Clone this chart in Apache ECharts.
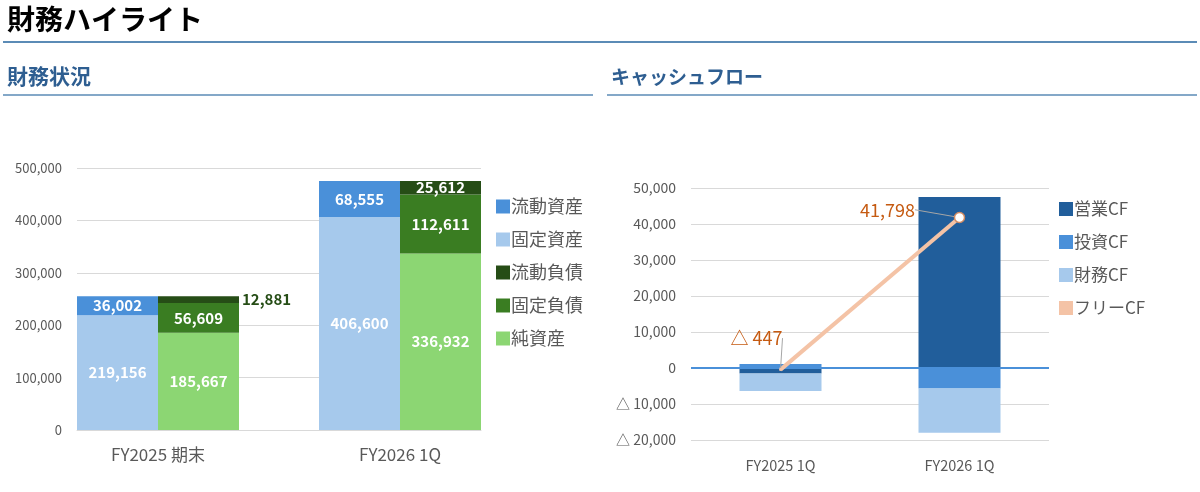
<!DOCTYPE html>
<html>
<head>
<meta charset="utf-8">
<script src="https://cdn.jsdelivr.net/npm/echarts@6/dist/echarts.min.js"></script>
<style>
  html, body { margin: 0; padding: 0; background: #fff; }
  #main { width: 1200px; height: 492px; }
</style>
</head>
<body>
<div id="main"></div>
<script>
var FONT = '"Noto Sans CJK JP", "Noto Sans", sans-serif';

// 財務状況
var bsCategories = ['FY2025 期末', 'FY2026 1Q'];
var fixedAssets = [219156, 406600];
var currentAssets = [36002, 68555];
var netAssets = [185667, 336932];
var fixedLiab = [56609, 112611];
var currentLiab = [12881, 25612];
var bsTicks = [0, 500000, 100000];

// キャッシュフロー
var cfCategories = ['FY2025 1Q', 'FY2026 1Q'];
var operatingCF = [-1547, 47500];
var investingCF = [1100, -5702];
var financingCF = [-4850, -12300];
var freeCF = [-447, 41798];
var cfTicks = [-20000, 50000, 10000];

function fmt(v) {
  return v < 0 ? '△ ' + Math.abs(v).toLocaleString('en-US') : v.toLocaleString('en-US');
}

var myChart = echarts.init(document.getElementById('main'));

var inLabel = {
  show: true, position: 'inside', color: '#fff', fontWeight: 'bold',
  fontSize: 15, fontFamily: FONT,
  formatter: function (p) { return p.value.toLocaleString('en-US'); }
};

function bsBar(name, data, stack, color, label) {
  return {
    name: name, type: 'bar', stack: stack, data: data,
    xAxisIndex: 0, yAxisIndex: 0, barWidth: 81, barGap: '0%',
    itemStyle: { color: color }, label: label || inLabel
  };
}

function cfBar(name, data, color) {
  return {
    name: name, type: 'bar', stack: 'cf', data: data,
    xAxisIndex: 2, yAxisIndex: 2, barWidth: 82,
    itemStyle: { color: color }
  };
}

var option = {
  animation: false,
  textStyle: { fontFamily: FONT },
  title: [
    { text: '財務ハイライト', left: 7, top: 5, padding: 0,
      textStyle: { fontSize: 28, fontWeight: 'bold', color: '#000', fontFamily: FONT } },
    { text: '財務状況', left: 7, top: 66, padding: 0,
      textStyle: { fontSize: 21, fontWeight: 'bold', color: '#2e5e91', fontFamily: FONT } },
    { text: 'キャッシュフロー', left: 611, top: 67, padding: 0,
      textStyle: { fontSize: 19, fontWeight: 'bold', color: '#2e5e91', fontFamily: FONT } }
  ],
  graphic: [
    { type: 'line', shape: { x1: 3, y1: 42, x2: 1197, y2: 42 }, style: { stroke: '#5b8bb6', lineWidth: 2 } },
    { type: 'line', shape: { x1: 3, y1: 95, x2: 593, y2: 95 }, style: { stroke: '#5b8bb6', lineWidth: 1.5 } },
    { type: 'line', shape: { x1: 607, y1: 95, x2: 1197, y2: 95 }, style: { stroke: '#5b8bb6', lineWidth: 1.5 } }
  ],
  legend: [
    { orient: 'vertical', left: 496, top: 196, padding: 0, icon: 'rect', itemWidth: 14, itemHeight: 14, itemGap: 12,
      data: ['流動資産', '固定資産', '流動負債', '固定負債', '純資産'],
      textStyle: { fontSize: 18, color: '#595959', padding: [0, 0, 0, -4], lineHeight: 21, fontFamily: FONT } },
    { orient: 'vertical', left: 1059, top: 199, padding: 0, icon: 'rect', itemWidth: 14, itemHeight: 14, itemGap: 13,
      data: ['営業CF', '投資CF', '財務CF', 'フリーCF'],
      textStyle: { fontSize: 17, color: '#595959', padding: [0, 0, 0, -4], lineHeight: 20, fontFamily: FONT } }
  ],
  grid: [
    { left: 37, right: 679, top: 168, bottom: 62 },
    { left: 77, right: 719, top: 168, bottom: 62 },
    { left: 691, right: 151, top: 188, bottom: 52 }
  ],
  xAxis: [
    { type: 'category', gridIndex: 0, data: bsCategories,
      axisLine: { show: false }, axisTick: { show: false },
      axisLabel: { color: '#595959', fontSize: 17, margin: 16, fontFamily: FONT } },
    { type: 'category', gridIndex: 1, data: bsCategories,
      axisLine: { lineStyle: { color: '#d9d9d9' } }, axisTick: { show: false },
      axisLabel: { show: false } },
    { type: 'category', gridIndex: 2, data: cfCategories,
      axisLine: { show: false }, axisTick: { show: false },
      axisLabel: { color: '#595959', fontSize: 14.5, margin: 18, fontFamily: FONT } }
  ],
  yAxis: [
    { type: 'value', gridIndex: 0, min: bsTicks[0], max: bsTicks[1], interval: bsTicks[2], show: false },
    { type: 'value', gridIndex: 1, min: bsTicks[0], max: bsTicks[1], interval: bsTicks[2],
      axisLine: { show: false }, axisTick: { show: false },
      splitLine: { lineStyle: { color: '#d9d9d9' } },
      axisLabel: { color: '#595959', fontSize: 13, margin: 15, fontFamily: FONT,
        formatter: function (v) { return v.toLocaleString('en-US'); } } },
    { type: 'value', gridIndex: 2, min: cfTicks[0], max: cfTicks[1], interval: cfTicks[2],
      axisLine: { show: false }, axisTick: { show: false },
      splitLine: { lineStyle: { color: '#d9d9d9' } },
      axisLabel: { color: '#595959', fontSize: 14, margin: 15, fontFamily: FONT, formatter: fmt } }
  ],
  series: [
    bsBar('固定資産', fixedAssets, 'assets', '#a6c9ec'),
    bsBar('流動資産', currentAssets, 'assets', '#4a90d9'),
    bsBar('純資産', netAssets, 'liab', '#8cd673'),
    bsBar('固定負債', fixedLiab, 'liab', '#3a7d22'),
    {
      name: '流動負債', type: 'bar', stack: 'liab', xAxisIndex: 0, yAxisIndex: 0,
      barWidth: 81, barGap: '0%', itemStyle: { color: '#264d16' },
      data: [
        { value: currentLiab[0], label: { position: 'right', color: '#264d16', distance: 3 } },
        currentLiab[1]
      ],
      label: inLabel
    },
    {
      name: '営業CF', type: 'bar', stack: 'cf', data: operatingCF,
      xAxisIndex: 2, yAxisIndex: 2, barWidth: 82, itemStyle: { color: '#215e9b' },
      markLine: {
        silent: true, symbol: 'none', label: { show: false },
        lineStyle: { color: '#4a90d9', width: 2, type: 'solid' },
        data: [{ yAxis: 0 }]
      }
    },
    cfBar('投資CF', investingCF, '#4a90d9'),
    cfBar('財務CF', financingCF, '#a6c9ec'),
    {
      name: 'フリーCF', type: 'line', xAxisIndex: 2, yAxisIndex: 2, z: 5,
      lineStyle: { color: '#f4c3a6', width: 4 },
      itemStyle: { color: '#f4c3a6' },
      data: [
        { value: freeCF[0], symbol: 'circle', symbolSize: 3 },
        { value: freeCF[1], symbol: 'circle', symbolSize: 10,
          itemStyle: { color: '#fff', borderColor: '#d08a62', borderWidth: 1.5 } }
      ],
      label: { show: true, position: 'top', color: '#c55a11', fontSize: 18, fontFamily: FONT,
        formatter: function (p) { return fmt(p.value); } },
      labelLine: { show: true, lineStyle: { color: '#a6a6a6', width: 1 } },
      labelLayout: function (p) {
        return p.dataIndex === 0 ? { dx: -24, dy: -16 } : { dx: -72, dy: 12 };
      }
    }
  ]
};

myChart.setOption(option);
</script>
</body>
</html>
